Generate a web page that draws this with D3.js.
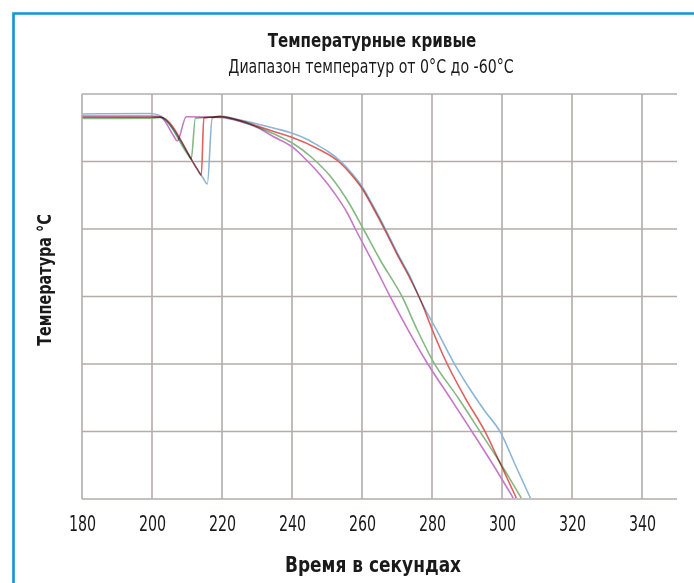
<!DOCTYPE html>
<html>
<head>
<meta charset="utf-8">
<script src="https://cdn.jsdelivr.net/npm/d3@7"></script>
<style>
  html, body { margin: 0; padding: 0; background: #fff; }
  #chart { width: 694px; height: 583px; }
  text { font-family: "DejaVu Sans Condensed", "DejaVu Sans", sans-serif; fill: #1a1a1a; }
  .curve { mix-blend-mode: multiply; }
</style>
</head>
<body>
<div id="chart"></div>
<script>
// time (s) ticks and temperature gridlines (no labels on y)
const xTicks = [180, 200, 220, 240, 260, 280, 300, 320, 340];
const yTicks = [0, -10, -20, -30, -40, -50, -60];

// [time, temperature]
const blueCurve = [
  [180.1, -2.96], [199.5, -2.89], [201.8, -3.11], [214.5, -12.38], [215.8, -13.33], [217.2, -3.56],
  [219.5, -3.26], [225.2, -3.85], [230.1, -4.44], [235.2, -5.11], [240.1, -5.82],
  [243.8, -6.59], [247.2, -7.56], [250.7, -8.67], [253.8, -9.93], [256.9, -11.63],
  [260.1, -13.78], [263.2, -16.59], [266.7, -20.0], [270.1, -23.56], [273.8, -27.11],
  [276.7, -30.52], [281.3, -34.96], [285.8, -39.41], [291.0, -43.85], [295.3, -47.1],
  [299.5, -50.07], [303.8, -54.96], [308.1, -59.85]
];
const redCurve = [
  [180.1, -3.45], [199.5, -3.45], [202.4, -3.41], [213.0, -11.19], [214.1, -12.0], [214.8, -3.56],
  [219.5, -3.33], [225.2, -3.93], [230.1, -4.74], [235.2, -5.63], [240.1, -6.44],
  [247.2, -8.07], [253.8, -10.22], [256.9, -11.93], [260.1, -14.07], [263.2, -16.89],
  [266.7, -20.3], [270.1, -23.85], [273.8, -27.41], [276.7, -30.52], [280.1, -34.96],
  [283.8, -39.41], [289.5, -45.04], [295.2, -50.07], [298.7, -53.85], [304.1, -59.85]
];
const greenCurve = [
  [180.1, -3.63], [199.5, -3.6], [202.4, -3.48], [210.2, -8.93], [211.2, -9.63], [212.4, -3.6],
  [219.5, -3.41], [225.2, -4.0], [230.1, -4.89], [234.9, -5.93], [240.1, -7.26],
  [245.5, -9.33], [250.9, -12.15], [256.1, -16.0], [260.4, -20.0], [265.2, -24.59],
  [271.5, -30.07], [275.8, -34.96], [280.1, -39.41], [287.5, -45.04], [293.8, -50.07],
  [299.5, -54.67], [305.5, -59.85]
];
const purpleCurve = [
  [180.1, -3.26], [199.5, -3.26], [202.4, -3.41], [206.3, -6.29], [207.2, -6.96], [209.8, -3.36],
  [219.5, -3.48], [225.2, -4.07], [230.1, -4.96], [234.9, -6.37], [240.1, -7.85],
  [244.1, -9.78], [248.1, -12.0], [252.1, -14.67], [255.8, -17.63], [258.1, -20.0],
  [263.2, -25.04], [268.1, -30.07], [273.0, -34.81], [278.1, -39.41], [285.2, -45.04],
  [291.5, -50.07], [297.5, -54.96], [303.2, -59.85]
];

const series = [
  { name: "red", color: "#e0615e", values: redCurve },
  { name: "green", color: "#86b884", values: greenCurve },
  { name: "purple", color: "#c579c6", values: purpleCurve },
  { name: "blue", color: "#8db6d6", values: blueCurve },
];

const width = 694, height = 583;
const plot = { left: 82, right: 677, top: 94, bottom: 499 };

const svg = d3.select("#chart").append("svg")
  .attr("width", width)
  .attr("height", height);

svg.append("rect").attr("width", width).attr("height", height).attr("fill", "#fff");

// blue frame, only top and left edges are visible
svg.append("path")
  .attr("d", `M13.5,${height} V13.5 H${width}`)
  .attr("fill", "none")
  .attr("stroke", "#0f97d5")
  .attr("stroke-width", 2.6);

const x = d3.scaleLinear().domain([180, 350]).range([plot.left, plot.right]);
const y = d3.scaleLinear().domain([-60, 0]).range([plot.bottom, plot.top]);

// grid
const grid = svg.append("g").attr("stroke", "#b3adaa").attr("stroke-width", 1.6);
grid.selectAll("line.h").data(yTicks).join("line")
  .attr("class", "h")
  .attr("x1", plot.left).attr("x2", plot.right)
  .attr("y1", d => y(d)).attr("y2", d => y(d));
grid.selectAll("line.v").data(xTicks).join("line")
  .attr("class", "v")
  .attr("x1", d => x(d)).attr("x2", d => x(d))
  .attr("y1", plot.top).attr("y2", plot.bottom);

// x tick labels through an axis with no lines
const xAxis = d3.axisBottom(x).tickValues(xTicks).tickSize(0).tickPadding(0);
const gx = svg.append("g")
  .attr("transform", `translate(0,${plot.bottom + 16})`)
  .call(xAxis);
gx.select(".domain").remove();
gx.selectAll("text")
  .attr("font-size", 22)
  .attr("dy", "0.71em")
  .attr("fill", "#1a1a1a")
  .attr("transform", "scale(0.72,1)")
  .style("font-family", null);

// curves
svg.append("clipPath").attr("id", "clip")
  .append("rect")
  .attr("x", plot.left).attr("y", plot.top - 10)
  .attr("width", plot.right - plot.left).attr("height", plot.bottom - plot.top + 11);

const line = d3.line()
  .x(d => x(d[0]))
  .y(d => y(d[1]))
  .curve(d3.curveMonotoneX);

svg.append("g").attr("clip-path", "url(#clip)")
  .selectAll("path")
  .data(series)
  .join("path")
  .attr("class", "curve")
  .attr("d", d => line(d.values))
  .attr("fill", "none")
  .attr("stroke", d => d.color)
  .attr("stroke-width", 1.6)
  .attr("stroke-linejoin", "round");

// titles (squeezed sideways to look like the condensed face of the original)
svg.append("text")
  .attr("transform", "translate(372,47) scale(0.84,1)")
  .attr("text-anchor", "middle")
  .attr("font-size", 20)
  .attr("font-weight", "bold")
  .text("Температурные кривые");

svg.append("text")
  .attr("transform", "translate(371,73) scale(0.83,1)")
  .attr("text-anchor", "middle")
  .attr("font-size", 19)
  .text("Диапазон температур от 0°C до -60°C");

svg.append("text")
  .attr("transform", "translate(373,572) scale(0.9,1)")
  .attr("text-anchor", "middle")
  .attr("font-size", 21)
  .attr("font-weight", "bold")
  .text("Время в секундах");

svg.append("text")
  .attr("transform", "translate(51,280) rotate(-90) scale(0.8,1)")
  .attr("text-anchor", "middle")
  .attr("font-size", 20)
  .attr("font-weight", "bold")
  .text("Температура °C");
</script>
</body>
</html>
